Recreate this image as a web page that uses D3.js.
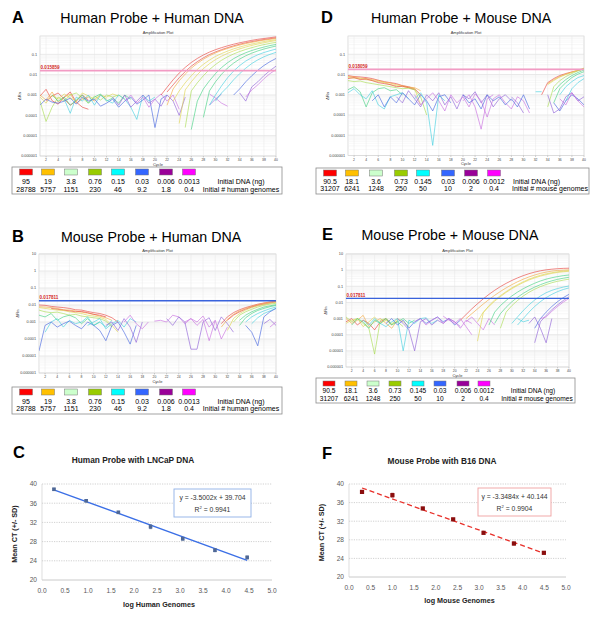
<!DOCTYPE html>
<html><head><meta charset="utf-8">
<script src="https://cdn.jsdelivr.net/npm/d3@7"></script>
<style>body{margin:0;background:#fff}svg{display:block;font-family:"Liberation Sans",Arial,sans-serif}</style>
</head><body><svg id="c" width="600" height="619"></svg>
<script>
// ---------------- DATA ----------------
const dnaHuman = ["95","19","3.8","0.76","0.15","0.03","0.006","0.0013"];
const genomesHuman = ["28788","5757","1151","230","46","9.2","1.8","0.4"];
const dnaMouse = ["90.5","18.1","3.6","0.73","0.145","0.03","0.006","0.0012"];
const genomesMouse = ["31207","6241","1248","250","50","10","2","0.4"];
const legendColors = ["#ff0000","#ffc000","#ccffcc","#99cc00","#00ffff","#3366ff","#990099","#ff00ff"];
const lineColors = ["#e8453f","#f3a841","#e0d450","#a8dc52","#45d283","#45cfe0","#4767e0","#8f62d8","#c86ee0"];
const cycleTicks = [2,4,6,8,10,12,14,16,18,20,22,24,26,28,30,32,34,36,38,40];
const yTicksSmall = [0.1,0.01,0.001,0.0001,0.00001,0.000001];
const yTicksLarge = [10,1,0.1,0.01,0.001,0.0001,0.00001,0.000001];
const yTickLabels = {"10":"10","1":"1","0.1":"0.1","0.01":"0.01","0.001":"0.001","0.0001":"0.0001","0.00001":"0.00001","0.000001":"0.000001"};
const thresholds = {A:0.015859, B:0.017811, D:0.018059, E:0.017811};
const thresholdLabels = {A:"0.015859", B:"0.017811", D:"0.018059", E:"0.017811"};

// curves: [colour index, first cycle, log10(ΔRn) per cycle]
const curvesA = [
 [0,1,[-3.05,-2.72,-3.28,-3.45,-3.1,-2.85,-3.35,-3.6,-3.7]],
 [0,2,[-3.3,-3.05,-2.9,-3.2,-3.5,-3.3,-3.0,-3.25]],
 [1,1,[-3.0,-3.25,-2.85,-3.35,-3.1,-2.95,-3.4,-3.2,-3.1,-3.3,-3.0,-3.2]],
 [2,1,[-3.1,-3.4,-3.0,-3.2,-2.95,-3.15,-3.3,-2.9,-3.05,-3.2,-3.0,-3.1,-2.95,-3.05]],
 [3,1,[-3.3,-4.3,-3.6,-3.1,-3.3,-3.0,-2.9,-3.15,-3.4,-3.05,-3.25,-3.0,-3.1,-3.0,-3.2]],
 [4,3,[-3.0,-3.3,-3.1,-3.5,-3.25,-3.0,-3.4,-3.1,-2.95,-3.3,-3.15,-3.4,-3.0,-3.2]],
 [5,5,[-3.2,-3.9,-3.1,-3.3,-3.0,-3.5,-3.0,-3.25,-3.4,-3.0,-3.2,-3.6,-4.2,-3.0,-3.3,-3.1]],
 [6,1,[-3.5,-3.2,-3.35,-3.4,-3.3,-3.15,-3.45,-3.1,-3.3,-3.2,-3.55,-3.4,-3.2,-3.6,-3.3,-3.1,-3.45,-3.25,-3.0,-4.6,-3.2,-3.0]],
 [7,13,[-3.1,-3.5,-3.0,-3.6,-3.3,-3.0,-3.4,-3.2,-3.55,-3.0,-3.3,-4.0,-3.1]],
 [8,15,[-3.3,-3.0,-3.4,-3.1,-3.6,-3.2,-2.95,-3.3,-3.0,-3.7]],
 [8,29,[-2.95,-3.15,-3.4,-3.55]],
 [7,29,[-3.5,-3.2,-2.95]],
 [0,21,[-3.0,-2.62,-2.25,-1.92,-1.64,-1.4,-1.2,-1.03,-0.89,-0.77,-0.67,-0.58,-0.5,-0.43,-0.37,-0.31,-0.26,-0.22,-0.18,-0.14]],
 [0,22,[-2.85,-2.5,-2.15,-1.85,-1.58,-1.36,-1.17,-1.01,-0.88,-0.77,-0.67,-0.58,-0.5,-0.43,-0.37,-0.32,-0.27,-0.23,-0.19]],
 [1,22,[-3.5,-2.7,-2.3,-1.97,-1.68,-1.44,-1.24,-1.07,-0.93,-0.81,-0.71,-0.62,-0.54,-0.47,-0.41,-0.35,-0.3,-0.26,-0.22]],
 [2,23,[-3.3,-2.8,-2.4,-2.05,-1.74,-1.49,-1.28,-1.1,-0.96,-0.84,-0.73,-0.64,-0.56,-0.49,-0.43,-0.37,-0.32,-0.28]],
 [2,24,[-4.4,-2.75,-2.35,-2.0,-1.7,-1.46,-1.26,-1.09,-0.95,-0.83,-0.73,-0.64,-0.56,-0.49,-0.43,-0.37,-0.32]],
 [3,25,[-4.6,-2.8,-2.4,-2.05,-1.75,-1.5,-1.29,-1.12,-0.98,-0.86,-0.76,-0.67,-0.59,-0.52,-0.46,-0.41]],
 [4,26,[-4.7,-3.3,-2.7,-2.3,-1.95,-1.65,-1.41,-1.21,-1.05,-0.92,-0.81,-0.72,-0.64,-0.57,-0.51]],
 [4,28,[-4.1,-2.8,-2.35,-1.98,-1.67,-1.43,-1.23,-1.07,-0.94,-0.83,-0.74,-0.66,-0.59]],
 [5,29,[-3.5,-3.0,-2.55,-2.15,-1.82,-1.55,-1.33,-1.16,-1.02,-0.91,-0.82,-0.74]],
 [5,30,[-3.3,-2.9,-2.6,-2.25,-1.95,-1.68,-1.45,-1.27,-1.12,-1.0,-0.9]],
 [6,33,[-3.0,-2.7,-2.35,-2.05,-1.78,-1.55,-1.36,-1.2]],
 [7,34,[-2.9,-3.3,-2.6,-2.35,-2.05,-1.8,-1.58]],
 [8,35,[-3.1,-2.75,-2.5,-2.2,-1.95,-1.75]]
];
const curvesD = [
 [0,1,[-2.05,-2.1,-2.12,-2.15,-2.2,-2.28,-2.35,-2.4,-2.45,-2.55,-2.6,-2.7,-3.0]],
 [1,1,[-2.1,-2.12,-2.18,-2.2,-2.25,-2.3,-2.38,-2.42,-2.5,-2.55,-2.62,-2.65,-2.8]],
 [2,1,[-2.15,-2.18,-2.2,-2.25,-2.3,-2.35,-2.4,-2.5,-2.55,-2.6,-2.65,-2.7,-3.5]],
 [0,1,[-2.2,-2.15,-2.25,-2.22,-2.3,-2.4,-2.45,-2.5,-2.6,-2.58,-2.65,-2.75]],
 [3,1,[-2.3,-2.35,-2.32,-2.4,-2.45,-2.5,-2.55,-2.6,-2.65,-2.7,-2.68,-2.75,-3.1,-4.0]],
 [4,1,[-2.75,-2.6,-2.85,-3.6,-2.9,-2.7,-2.65,-2.8,-2.75,-3.0]],
 [5,1,[-2.9,-2.7,-3.0,-3.2,-2.8,-3.5,-3.7,-3.1,-3.0,-2.9,-3.2]],
 [6,5,[-3.3,-3.0,-3.6,-3.1,-3.4,-2.9,-3.2,-3.5,-3.0,-3.3,-3.8,-3.1,-3.0,-3.4]],
 [7,9,[-3.1,-3.4,-2.8,-3.2,-3.6,-3.0,-3.3,-2.9,-3.5,-3.1,-3.7,-3.0,-3.2,-2.85,-3.4,-3.0,-3.6,-3.2,-3.0,-3.3]],
 [8,12,[-3.0,-3.5,-3.2,-2.9,-3.3,-3.8,-3.0,-3.4,-3.1,-3.6,-2.95,-3.3,-4.1,-3.2,-3.0,-3.4,-3.7,-3.1,-3.3,-3.9]],
 [5,12,[-3.2,-2.9,-3.4,-5.5,-3.0,-3.3]],
 [8,20,[-3.3,-3.0,-3.6,-4.7,-3.2,-3.0]],
 [6,20,[-3.0,-3.4,-3.2,-3.7,-3.0,-3.3,-3.1,-3.5,-3.2,-3.6,-3.0,-3.7]],
 [7,28,[-3.1,-3.4,-3.9]],
 [5,32,[-2.85,-2.85]],
 [0,33,[-3.0,-2.4,-2.2,-2.05,-1.95,-1.87,-1.8,-1.72]],
 [1,34,[-2.45,-2.25,-2.1,-1.98,-1.88,-1.8,-1.72]],
 [2,34,[-2.5,-2.3,-2.12,-2.0,-1.9,-1.78,-1.68]],
 [3,34,[-3.6,-2.6,-2.3,-2.1,-1.95,-1.82,-1.7]],
 [4,35,[-2.85,-2.5,-2.25,-2.05,-1.9,-1.78]],
 [4,35,[-3.4,-2.7,-2.4,-2.15,-1.98,-1.86]],
 [5,36,[-3.0,-2.6,-2.35,-2.15,-2.05]],
 [5,37,[-3.3,-2.7,-2.4,-2.2]],
 [6,35,[-3.4,-3.8,-3.3,-3.0,-3.2,-3.5]],
 [7,34,[-3.0,-3.9,-3.7,-3.1,-2.9,-3.3,-3.1]],
 [8,36,[-3.2,-3.5,-2.9,-3.3,-3.6]]
];
const curvesB = [
 [0,1,[-2.0,-2.02,-2.08,-2.12,-2.15,-2.2,-2.28,-2.3,-2.38,-2.45,-2.5,-2.6,-2.75,-3.0]],
 [1,1,[-2.1,-2.12,-2.15,-2.2,-2.28,-2.3,-2.35,-2.42,-2.48,-2.55,-2.65,-2.75,-2.9]],
 [0,3,[-2.2,-2.25,-2.3,-2.35,-2.4,-2.38,-2.45,-2.55,-2.6,-2.7]],
 [2,1,[-2.15,-2.2,-2.25,-2.3,-2.32,-2.4,-2.45,-2.5,-2.6,-2.65,-2.72,-2.85,-3.2,-3.6]],
 [3,1,[-2.3,-2.4,-2.45,-2.42,-2.5,-2.6,-2.55,-2.65,-2.7,-2.75,-2.8,-2.95,-3.3]],
 [4,1,[-2.6,-2.7,-2.5,-2.9,-2.7,-2.6,-2.75,-3.1,-2.8,-3.2,-3.0]],
 [5,2,[-3.6,-3.0,-2.8,-3.3,-2.9,-3.1,-3.0,-2.7,-3.2,-3.0,-3.3,-2.9]],
 [6,1,[-4.7,-3.2,-3.0,-3.3,-3.1,-2.95,-3.2,-3.4,-3.0,-3.2,-3.5,-4.1,-3.2,-3.0,-3.6,-4.3,-3.2]],
 [5,9,[-3.2,-3.0,-2.8,-3.4,-3.1,-2.9,-3.3,-2.8,-3.0]],
 [7,12,[-3.2,-3.0,-3.5,-2.8,-3.3,-4.2,-3.0]],
 [8,15,[-3.0,-2.6,-3.1,-3.4,-3.0]],
 [8,20,[-2.95,-2.9,-3.0,-2.6,-2.7,-3.1,-2.8,-3.0,-2.65,-3.3,-2.9]],
 [7,22,[-2.8,-3.2,-2.7,-3.0,-4.6,-4.6,-3.0,-2.75,-3.5,-2.7,-3.1,-3.6]],
 [8,25,[-3.0,-2.8,-3.2,-2.85,-4.1,-2.9,-4.0,-3.3]],
 [0,31,[-3.1,-2.7,-2.45,-2.28,-2.15,-2.05,-1.95,-1.88,-1.82,-1.76]],
 [1,31,[-3.3,-2.85,-2.55,-2.35,-2.2,-2.08,-1.98,-1.9,-1.83,-1.78]],
 [0,32,[-2.9,-2.6,-2.4,-2.25,-2.12,-2.02,-1.95,-1.88,-1.82]],
 [2,32,[-3.5,-2.8,-2.5,-2.3,-2.15,-2.05,-1.97,-1.9,-1.85]],
 [3,33,[-3.0,-2.6,-2.4,-2.25,-2.12,-2.02,-1.95,-1.9]],
 [4,34,[-2.9,-2.6,-2.4,-2.25,-2.12,-2.05,-1.98]],
 [4,34,[-3.2,-2.75,-2.5,-2.32,-2.2,-2.1,-2.02]],
 [5,35,[-3.0,-2.7,-2.5,-2.35,-2.22,-2.12]],
 [5,36,[-3.1,-2.75,-2.5,-2.35,-2.2]],
 [6,35,[-3.2,-3.6,-4.4,-2.7,-2.4,-2.2]],
 [7,38,[-3.1,-2.85,-3.2]],
 [8,39,[-3.3,-3.0]]
];
const curvesE = [
 [0,1,[-3.2,-3.0,-3.4,-3.1,-3.3,-3.7,-3.2,-3.0,-3.4]],
 [1,1,[-3.0,-3.3,-3.1,-2.8,-3.5,-3.2,-3.0,-3.3,-3.6,-3.1]],
 [2,1,[-3.3,-3.1,-3.0,-3.5,-3.2,-2.9,-3.3,-3.1,-3.4,-3.0,-3.2,-3.5]],
 [3,1,[-2.9,-3.2,-3.0,-3.3,-3.6,-5.2,-3.1,-3.0,-3.3,-3.2,-3.5]],
 [4,2,[-3.4,-3.0,-3.2,-3.6,-3.1,-3.3,-3.0,-3.4,-3.2,-3.0,-3.3,-3.1]],
 [5,4,[-3.1,-3.4,-3.0,-3.3,-3.5,-3.2,-3.0,-5.0,-3.1,-3.3,-3.0,-2.95,-3.3,-3.1]],
 [6,8,[-3.3,-3.0,-3.4,-3.1,-3.6,-3.2,-3.0,-3.3,-3.1,-2.9,-3.2,-3.0,-3.4,-3.1]],
 [7,10,[-3.0,-3.3,-3.7,-5.0,-3.2,-3.0,-3.4,-3.1,-3.3,-3.0,-3.2,-3.5]],
 [8,13,[-3.2,-3.0,-3.4,-3.1,-2.9,-3.3,-3.0,-3.2,-3.6,-3.1,-3.3]],
 [8,18,[-2.85,-3.1,-3.3,-3.0,-3.5,-4.0]],
 [8,22,[-3.2,-2.9,-3.3,-3.7,-3.0,-3.4]],
 [5,31,[-3.0,-3.2,-3.1]],
 [7,33,[-3.3,-2.9,-3.6,-4.5,-3.0]],
 [0,21,[-3.1,-2.75,-2.4,-2.08,-1.78,-1.5,-1.25,-1.02,-0.82,-0.64,-0.48,-0.34,-0.22,-0.12,-0.04,0.02,0.06,0.09,0.11,0.12]],
 [1,22,[-3.0,-2.7,-2.4,-2.1,-1.82,-1.56,-1.32,-1.1,-0.9,-0.72,-0.56,-0.42,-0.3,-0.2,-0.12,-0.06,-0.02,0.0,0.02]],
 [2,24,[-4.4,-2.65,-2.2,-1.85,-1.58,-1.33,-1.1,-0.9,-0.72,-0.56,-0.43,-0.32,-0.23,-0.16,-0.1,-0.06,-0.03]],
 [2,24,[-3.2,-2.6,-2.25,-1.92,-1.64,-1.38,-1.15,-0.95,-0.77,-0.61,-0.48,-0.37,-0.28,-0.2,-0.14,-0.1,-0.07]],
 [4,26,[-3.4,-2.6,-2.2,-1.88,-1.6,-1.36,-1.15,-0.97,-0.81,-0.67,-0.56,-0.47,-0.4,-0.34,-0.3]],
 [4,27,[-3.3,-2.7,-2.3,-1.96,-1.68,-1.44,-1.23,-1.05,-0.9,-0.77,-0.66,-0.57,-0.5,-0.44]],
 [3,28,[-3.6,-2.6,-2.2,-1.88,-1.6,-1.37,-1.18,-1.02,-0.89,-0.78,-0.69,-0.62,-0.56]],
 [5,30,[-3.3,-2.9,-2.5,-2.15,-1.85,-1.6,-1.4,-1.25,-1.14,-1.05,-0.98]],
 [5,31,[-3.4,-3.0,-2.6,-2.25,-1.95,-1.7,-1.5,-1.33,-1.2,-1.1]],
 [6,34,[-3.6,-3.0,-2.6,-2.25,-1.95,-1.7,-1.5]],
 [7,34,[-4.5,-3.2,-2.8,-2.45,-2.15,-1.88,-1.65]],
 [8,35,[-3.0,-2.9,-2.55,-2.25,-1.98,-1.75]]
];

// standard curves
const logHuman = [0.26,0.96,1.66,2.36,3.06,3.76,4.46];
const ctHuman  = [38.9,36.5,34.1,31.1,28.6,26.2,24.7];
const sdHuman  = [0.2,0.2,0.2,0.4,0.3,0.3,0.3];
const fitHuman = {slope:-3.5002, intercept:39.704, r2:"0.9941"};
const logMouse = [0.30,1.00,1.70,2.40,3.10,3.80,4.49];
const ctMouse  = [38.3,37.6,34.75,32.4,29.5,27.2,25.2];
const sdMouse  = [0.3,0.4,0.2,0.2,0.2,0.3,0.2];
const fitMouse = {slope:-3.3484, intercept:40.144, r2:"0.9904"};
const ctTicks = [20,24,28,32,36,40];
const logTicks = [0,0.5,1,1.5,2,2.5,3,3.5,4,4.5,5];

// ---------------- DRAW ----------------
const svg = d3.select("#c");

function txt(g, x, y, s, size, opts={}) {
  const t = g.append("text").attr("x",x).attr("y",y).text(s)
    .attr("font-size",size).attr("fill",opts.fill||"#000")
    .attr("text-anchor",opts.anchor||"start");
  if (opts.weight) t.attr("font-weight",opts.weight);
  if (opts.rotate) t.attr("transform",`rotate(-90,${x},${y})`);
  return t;
}

function panelTitle(letter, lx, title, tx, by) {
  txt(svg, lx, by, letter, 16.5, {weight:"bold"});
  txt(svg, tx, by, title, 14.2, {anchor:"middle"});
}

let clipId = 0;
function ampPlot(cfg) {
  const g = svg.append("g");
  const x = d3.scaleLinear().domain([1,40]).range([cfg.x0,cfg.x1]);
  const y = d3.scaleLog().domain([1e-6,cfg.yMax]).range([cfg.y1,cfg.y0]);
  g.append("rect").attr("x",cfg.x0).attr("y",cfg.y0).attr("width",cfg.x1-cfg.x0).attr("height",cfg.y1-cfg.y0)
    .attr("fill","#fff").attr("stroke","#c8c8c8").attr("stroke-width",0.6);
  const minor = y.ticks().filter(v => { const l = Math.log10(v); return Math.abs(l-Math.round(l))>1e-6; });
  g.selectAll(".mn").data(minor).join("line")
    .attr("x1",cfg.x0).attr("x2",cfg.x1).attr("y1",d=>y(d)).attr("y2",d=>y(d))
    .attr("stroke","#f1f1f1").attr("stroke-width",0.5);
  g.selectAll(".mj").data(cfg.yTicks).join("line")
    .attr("x1",cfg.x0).attr("x2",cfg.x1).attr("y1",d=>y(d)).attr("y2",d=>y(d))
    .attr("stroke","#dadada").attr("stroke-width",0.6);
  g.selectAll(".vg").data(cycleTicks).join("line")
    .attr("x1",d=>x(d)).attr("x2",d=>x(d)).attr("y1",cfg.y0).attr("y2",cfg.y1)
    .attr("stroke","#e6e6e6").attr("stroke-width",0.5);
  g.selectAll(".yt").data(cfg.yTicks).join("text")
    .attr("x",cfg.x0-3).attr("y",d=>y(d)+1.3).attr("text-anchor","end")
    .attr("font-size",3.8).attr("fill","#444").text(d=>yTickLabels[String(d)]);
  g.selectAll(".xt").data(cycleTicks).join("text")
    .attr("x",d=>x(d)).attr("y",cfg.y1+5).attr("text-anchor","middle")
    .attr("font-size",3.4).attr("fill","#444").text(d=>d);
  g.selectAll(".xtk").data(cycleTicks).join("line")
    .attr("x1",d=>x(d)).attr("x2",d=>x(d)).attr("y1",cfg.y1).attr("y2",cfg.y1+1.5)
    .attr("stroke","#888").attr("stroke-width",0.4);
  txt(g,(cfg.x0+cfg.x1)/2,cfg.y0-2.5,"Amplification Plot",4,{anchor:"middle",fill:"#333"});
  txt(g,(cfg.x0+cfg.x1)/2,cfg.y1+9.5,"Cycle",4,{anchor:"middle",fill:"#333"});
  txt(g,cfg.ylabX,(cfg.y0+cfg.y1)/2,"ΔRn",4,{anchor:"middle",fill:"#333",rotate:true});
  const id = "clip"+(clipId++);
  svg.append("clipPath").attr("id",id).append("rect")
    .attr("x",cfg.x0).attr("y",cfg.y0).attr("width",cfg.x1-cfg.x0).attr("height",cfg.y1-cfg.y0);
  const line = d3.line().x(d=>x(d[0])).y(d=>y(Math.pow(10,d[1])));
  const cg = g.append("g").attr("clip-path",`url(#${id})`);
  cg.selectAll("path").data(cfg.curves).join("path")
    .attr("d",c => line(c[2].map((v,i)=>[c[1]+i,v])))
    .attr("fill","none").attr("stroke",c=>lineColors[c[0]])
    .attr("stroke-width",0.8).attr("stroke-opacity",0.8);
  const ty = y(cfg.threshold);
  g.append("line").attr("x1",cfg.x0).attr("x2",cfg.x1).attr("y1",ty).attr("y2",ty)
    .attr("stroke",cfg.thrColor).attr("stroke-width",cfg.thrWidth);
  txt(g,cfg.x0+0.5,ty-1.3,cfg.thrLabel,4.6,{fill:"#d21f26",weight:"bold"});
}

function legend(cfg) {
  const g = svg.append("g");
  g.append("rect").attr("x",cfg.x).attr("y",cfg.y).attr("width",cfg.w).attr("height",cfg.h)
    .attr("fill","#fff").attr("stroke","#8c8c8c").attr("stroke-width",0.8);
  g.selectAll(".sw").data(legendColors).join("rect")
    .attr("x",(d,i)=>cfg.sx[i]-cfg.sw/2).attr("y",cfg.sy).attr("width",cfg.sw).attr("height",cfg.sh)
    .attr("fill",d=>d).attr("stroke","#777").attr("stroke-width",0.5);
  g.selectAll(".r1").data(cfg.dna).join("text")
    .attr("x",(d,i)=>cfg.sx[i]).attr("y",cfg.r1).attr("text-anchor","middle")
    .attr("font-size",cfg.fs).text(d=>d);
  g.selectAll(".r2").data(cfg.gen).join("text")
    .attr("x",(d,i)=>cfg.sx[i]).attr("y",cfg.r2).attr("text-anchor","middle")
    .attr("font-size",cfg.fs).text(d=>d);
  txt(g,cfg.l1x,cfg.r1,"Initial DNA (ng)",cfg.fs,{anchor:cfg.anchor});
  txt(g,cfg.l2x,cfg.r2,cfg.label2,cfg.fs,{anchor:cfg.anchor});
}

function stdCurve(cfg) {
  const g = svg.append("g");
  const x = d3.scaleLinear().domain([0,5]).range([cfg.x0,cfg.x1]);
  const y = d3.scaleLinear().domain([20,40]).range([cfg.y1,cfg.y0]);
  g.selectAll(".hg").data(ctTicks.filter(d=>d>20)).join("line")
    .attr("x1",x(0)).attr("x2",cfg.x1).attr("y1",d=>y(d)).attr("y2",d=>y(d))
    .attr("stroke","#bdbdbd").attr("stroke-width",0.7).attr("stroke-dasharray","1.2,1.2");
  g.append("line").attr("x1",x(0)).attr("x2",cfg.x1).attr("y1",y(20)).attr("y2",y(20))
    .attr("stroke","#bdbdbd").attr("stroke-width",0.8);
  g.append("line").attr("x1",x(0)).attr("x2",x(0)).attr("y1",y(20)).attr("y2",y(40))
    .attr("stroke","#d0d0d0").attr("stroke-width",0.7);
  g.selectAll(".yt").data(ctTicks).join("text")
    .attr("x",cfg.ytx).attr("y",d=>y(d)+2.3).attr("text-anchor","end")
    .attr("font-size",6.6).attr("fill","#595959").text(d=>d);
  g.selectAll(".xt").data(logTicks).join("text")
    .attr("x",d=>x(d)).attr("y",cfg.xty).attr("text-anchor","middle")
    .attr("font-size",6.6).attr("fill","#595959").text(d=>d.toFixed(1));
  const xs = d3.extent(cfg.lx);
  g.append("line").attr("x1",x(xs[0])).attr("x2",x(xs[1]))
    .attr("y1",y(cfg.fit.slope*xs[0]+cfg.fit.intercept)).attr("y2",y(cfg.fit.slope*xs[1]+cfg.fit.intercept))
    .attr("stroke",cfg.lineColor).attr("stroke-width",cfg.lineWidth).attr("stroke-dasharray",cfg.dash||null);
  const pts = cfg.lx.map((v,i)=>({x:v,ct:cfg.ct[i],sd:cfg.sd[i]}));
  g.selectAll(".eb").data(pts).join("path")
    .attr("d",d=>`M${x(d.x)},${y(d.ct-d.sd)}V${y(d.ct+d.sd)}M${x(d.x)-1.5},${y(d.ct-d.sd)}h3M${x(d.x)-1.5},${y(d.ct+d.sd)}h3`)
    .attr("stroke",cfg.markerColor).attr("stroke-width",0.7).attr("fill","none");
  g.selectAll(".mk").data(pts).join("rect")
    .attr("x",d=>x(d.x)-cfg.ms/2).attr("y",d=>y(d.ct)-cfg.ms/2).attr("width",cfg.ms).attr("height",cfg.ms)
    .attr("fill",cfg.markerColor);
  const b = cfg.box;
  g.append("rect").attr("x",b[0]).attr("y",b[1]).attr("width",b[2]).attr("height",b[3])
    .attr("fill","#fff").attr("stroke",cfg.boxColor).attr("stroke-width",0.9);
  const eq = `y = ${cfg.fit.slope.toFixed(4)}x + ${cfg.fit.intercept}`;
  txt(g,b[0]+b[2]/2,b[1]+11,eq,6.8,{anchor:"middle",fill:"#333"});
  const r = txt(g,b[0]+b[2]/2,b[1]+22.5,"",6.8,{anchor:"middle",fill:"#333"});
  r.append("tspan").text("R");
  r.append("tspan").text("2").attr("font-size",4.2).attr("dy",-2.6);
  r.append("tspan").text(" = "+cfg.fit.r2).attr("dy",2.6);
  txt(svg,cfg.letterX,cfg.letterY,cfg.letter,16.5,{weight:"bold"});
  txt(g,cfg.titleX,cfg.titleY,cfg.title,8.3,{anchor:"middle",weight:"bold",fill:"#222"});
  txt(g,(cfg.x0+cfg.x1)/2+2,cfg.xtitleY,cfg.xtitle,7.2,{anchor:"middle",weight:"bold",fill:"#222"});
  txt(g,cfg.ytitleX,(cfg.y0+cfg.y1)/2+2,"Mean CT (+/- SD)",7.2,{anchor:"middle",weight:"bold",fill:"#222",rotate:true});
}

panelTitle("A",12,"Human Probe + Human DNA",152,23);
panelTitle("D",321,"Human Probe + Mouse DNA",461,23);
panelTitle("B",12,"Mouse Probe + Human DNA",151,242);
panelTitle("E",322,"Mouse Probe + Mouse DNA",450,240);

ampPlot({x0:40,x1:276,y0:36,y1:156,yMax:0.8,yTicks:yTicksSmall,curves:curvesA,
  threshold:thresholds.A,thrLabel:thresholdLabels.A,thrColor:"#f29bc4",thrWidth:1.6,ylabX:21});
ampPlot({x0:348,x1:584,y0:36,y1:155.5,yMax:0.8,yTicks:yTicksSmall,curves:curvesD,
  threshold:thresholds.D,thrLabel:thresholdLabels.D,thrColor:"#f29bc4",thrWidth:1.6,ylabX:329});
ampPlot({x0:39,x1:276,y0:254,y1:373,yMax:10,yTicks:yTicksLarge,curves:curvesB,
  threshold:thresholds.B,thrLabel:thresholdLabels.B,thrColor:"#3a63dc",thrWidth:1.3,ylabX:19});
ampPlot({x0:346,x1:569,y0:254,y1:367,yMax:10,yTicks:yTicksLarge,curves:curvesE,
  threshold:thresholds.E,thrLabel:thresholdLabels.E,thrColor:"#3a63dc",thrWidth:1.3,ylabX:327});

legend({x:12,y:167,w:270,h:27,sx:[26,48,71,95,118,142,166,189],sy:169,sw:13,sh:6,
  r1:184,r2:191.5,fs:7,dna:dnaHuman,gen:genomesHuman,label2:"Initial # human genomes",l1x:241,l2x:241,anchor:"middle"});
legend({x:12,y:387,w:270,h:27,sx:[26,48,71,95,118,142,166,189],sy:389,sw:13,sh:6,
  r1:403.5,r2:411,fs:7,dna:dnaHuman,gen:genomesHuman,label2:"Initial # human genomes",l1x:241,l2x:241,anchor:"middle"});
legend({x:316,y:168,w:273,h:26,sx:[330,352,376,401,423,448,471,494],sy:170,sw:13,sh:6,
  r1:183.5,r2:191,fs:7,dna:dnaMouse,gen:genomesMouse,label2:"Initial # mouse genomes",l1x:513,l2x:512,anchor:"start"});
legend({x:316,y:378,w:259,h:25,sx:[329,351,373,395,418,440,463,484],sy:381,sw:12,sh:5,
  r1:393.3,r2:401,fs:6.6,dna:dnaMouse,gen:genomesMouse,label2:"Initial # mouse genomes",l1x:533,l2x:537,anchor:"middle"});

stdCurve({x0:42,x1:272,y0:484,y1:580,lx:logHuman,ct:ctHuman,sd:sdHuman,fit:fitHuman,
  lineColor:"#3b6fe6",lineWidth:1.4,markerColor:"#4f6896",ms:3.6,box:[174,489,77,28],boxColor:"#8fb0e6",
  ytx:37,xty:593,letter:"C",letterX:13,letterY:458,title:"Human Probe with LNCaP DNA",titleX:133,titleY:463,
  xtitle:"log Human Genomes",xtitleY:607,ytitleX:17});
stdCurve({x0:349,x1:566,y0:484,y1:577,lx:logMouse,ct:ctMouse,sd:sdMouse,fit:fitMouse,
  lineColor:"#e8302a",lineWidth:1.3,dash:"5,3",markerColor:"#8b0e0e",ms:4.2,box:[478,488,73,28],boxColor:"#f0a0a0",
  ytx:344,xty:590,letter:"F",letterX:322,letterY:459,title:"Mouse Probe with B16 DNA",titleX:442,titleY:464,
  xtitle:"log Mouse Genomes",xtitleY:603,ytitleX:324});
</script></body></html>
